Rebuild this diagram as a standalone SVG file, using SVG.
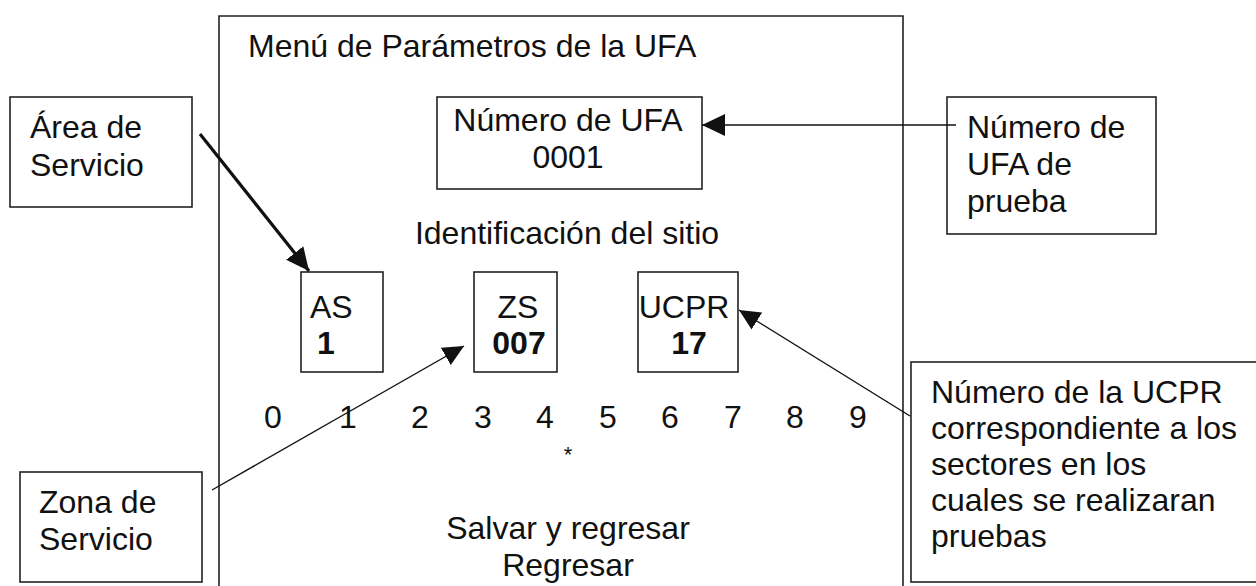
<svg xmlns="http://www.w3.org/2000/svg" width="1256" height="586" viewBox="0 0 1256 586">
<style>
.box{fill:none;stroke:#222;stroke-width:1.6}
.t{font-family:"Liberation Sans",Arial,sans-serif;font-size:32px;fill:#111}
.b{font-weight:bold}
.c{text-anchor:middle}
.ln{stroke:#111;fill:none}
</style>
<defs>
<marker id="ah" markerUnits="userSpaceOnUse" markerWidth="24" markerHeight="22" refX="23" refY="11" orient="auto"><path d="M0,0 L23,11 L0,22 z" fill="#111"/></marker>
<marker id="ahs" markerUnits="userSpaceOnUse" markerWidth="22" markerHeight="20" refX="21" refY="10" orient="auto"><path d="M0,0 L21,10 L0,20 z" fill="#111"/></marker>
</defs>
<g id="menu">
<path class="box" d="M219,590 V16 H903 V590"/>
<text class="t" x="248" y="57">Menú de Parámetros de la UFA</text>
<text class="t c" x="567" y="244">Identificación del sitio</text>
<g class="t c">
<text x="273" y="428">0</text><text x="348" y="428">1</text><text x="420" y="428">2</text><text x="483" y="428">3</text><text x="545" y="428">4</text><text x="608" y="428">5</text><text x="670" y="428">6</text><text x="733" y="428">7</text><text x="795" y="428">8</text><text x="858" y="428">9</text>
</g>
<text class="t c" x="568" y="462" style="font-size:22px">*</text>
<text class="t c" x="568" y="539">Salvar y regresar</text>
<text class="t c" x="568" y="576">Regresar</text>
</g>
<g id="numero-ufa">
<rect class="box" x="437" y="97" width="265" height="92"/>
<text class="t c" x="568" y="131">Número de UFA</text>
<text class="t c" x="568" y="168">0001</text>
</g>
<g id="as">
<rect class="box" x="301" y="272" width="82" height="100"/>
<text class="t" x="310" y="318">AS</text>
<text class="t b" x="317" y="354">1</text>
</g>
<g id="zs">
<rect class="box" x="474" y="272" width="83" height="100"/>
<text class="t c" x="518" y="318">ZS</text>
<text class="t b c" x="519" y="354">007</text>
</g>
<g id="ucpr">
<rect class="box" x="638" y="272" width="100" height="100"/>
<text class="t c" x="684" y="318">UCPR</text>
<text class="t b c" x="689" y="354">17</text>
</g>
<g id="area-servicio">
<rect class="box" x="10" y="97" width="182" height="110"/>
<text class="t" x="30" y="138">Área de</text>
<text class="t" x="30" y="176">Servicio</text>
</g>
<g id="numero-ufa-prueba">
<rect class="box" x="947" y="97" width="209" height="137"/>
<text class="t" x="967" y="138">Número de</text>
<text class="t" x="967" y="175">UFA de</text>
<text class="t" x="967" y="212">prueba</text>
</g>
<g id="zona-servicio">
<rect class="box" x="20" y="472" width="182" height="110"/>
<text class="t" x="39" y="513">Zona de</text>
<text class="t" x="39" y="550">Servicio</text>
</g>
<g id="ucpr-desc">
<rect class="box" x="911" y="362" width="360" height="220"/>
<text class="t" x="931" y="403">Número de la UCPR</text>
<text class="t" x="931" y="439">correspondiente a los</text>
<text class="t" x="931" y="475">sectores en los</text>
<text class="t" x="931" y="511">cuales se realizaran</text>
<text class="t" x="931" y="547">pruebas</text>
</g>
<g id="connectors">
<line class="ln" x1="200" y1="134" x2="309" y2="271" stroke-width="3.2" marker-end="url(#ah)"/>
<line class="ln" x1="956" y1="125" x2="702" y2="125" stroke-width="1.6" marker-end="url(#ah)"/>
<line class="ln" x1="212" y1="490" x2="464" y2="346" stroke-width="1.4" marker-end="url(#ahs)"/>
<line class="ln" x1="910" y1="416" x2="739" y2="310" stroke-width="1.4" marker-end="url(#ahs)"/>
</g>
</svg>
